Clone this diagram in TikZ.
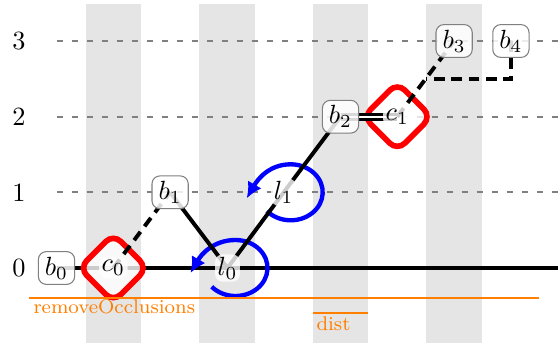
\documentclass[tikz,border=0pt]{standalone}
\usetikzlibrary{calc,arrows.meta}
\pgfdeclarelayer{background}
\pgfdeclarelayer{edgelayer}
\pgfsetlayers{background,edgelayer,main}
\begin{document}
\begin{tikzpicture}[x=0.38pt,y=0.38pt,
  bnode/.style={draw=gray, line width=0.4pt, rounded corners=3pt, fill=white, fill opacity=0.85, text opacity=1, inner xsep=2.5pt, inner ysep=2pt},
  halo/.style={fill=white, fill opacity=0.8, text opacity=1, inner sep=1pt, rounded corners=3pt},
  band/.style={fill=black!10, draw=none},
  rowline/.style={gray, line width=0.8pt, dash pattern=on 2.6pt off 3.1pt},
  edgeline/.style={black, line width=1.5pt},
  dashedge/.style={edgeline, dash pattern=on 4pt off 2.6pt},
  dbledge/.style={black, line width=1pt, double=white, double distance=0.9pt},
  loopline/.style={blue, line width=1.65pt, -{Latex[length=6pt,width=6pt]}},
  diam/.style={red, line width=2.15pt, rounded corners=4pt, fill=white, fill opacity=0.8},
  orangeline/.style={orange, line width=0.75pt},
  lbl/.style={orange, font=\fontsize{7.5}{9}\selectfont, inner sep=0pt, anchor=base west}
]
\useasboundingbox (0,0) rectangle (558,346);

% nodes
\node[bnode] (b0) at (56.5,78) {$b_0$};
\node[halo] (c0) at (113.3,78) {$c_0$};
\node[bnode] (b1) at (170.1,153.7) {$b_1$};
\node[halo] (l0) at (227.5,78) {$l_0$};
\node[halo] (l1) at (283.7,153.7) {$l_1$};
\node[bnode] (b2) at (340.5,229.3) {$b_2$};
\node[halo] (c1) at (397.3,229.3) {$c_1$};
\node[bnode] (b3) at (454.1,305) {$b_3$};
\node[bnode] (b4) at (510.9,305) {$b_4$};

% row labels
\node (n0) at (19,78) {0};
\node (n1) at (19,153.7) {1};
\node (n2) at (19,229.3) {2};
\node (n3) at (19,305) {3};

\begin{pgfonlayer}{background}
  \foreach \cx in {113.3,226.9,340.5,454.1}
    \fill[band] (\cx-27.75,3) rectangle (\cx+27.75,342);
  \foreach \ry in {153.7,229.3,305}
    \draw[rowline] (56.5,\ry) -- (558,\ry);
  \coordinate (r0end) at (558,78);
  \draw[edgeline] (b0.center) -- (r0end);
  % loops
  \draw[loopline] ($(l0)+(8,0)$) ++(222:32 and 28)
     arc[start angle=222, end angle=450, x radius=32, y radius=28]
     to[out=180, in=60] ++(-45,-33);
  \draw[loopline] ($(l1)+(7,0)$) ++(222:32 and 28)
     arc[start angle=222, end angle=450, x radius=32, y radius=28]
     to[out=180, in=60] ++(-44,-34);
  % diamonds
  \draw[diam] (c0.center) ++(-34,0) -- ++(34,34) -- ++(34,-34) -- ++(-34,-34) -- cycle;
  \draw[diam] (c1.center) ++(-34,0) -- ++(34,34) -- ++(34,-34) -- ++(-34,-34) -- cycle;
  % orange annotations
  \coordinate (oa) at (29,48);
  \coordinate (ob) at (539,48);
  \draw[orangeline] (oa) -- (ob);
  \coordinate (da) at (312.75,32.7);
  \coordinate (db) at (368.25,32.7);
  \draw[orangeline] (da) -- (db);
\end{pgfonlayer}

\node[lbl] (rmo) at (33,33) {removeOcclusions};
\node[lbl] (dist) at (316,16) {dist};

\begin{pgfonlayer}{edgelayer}
  \draw[dashedge] (c0.center) -- (b1.center);
  \draw[edgeline] (b1.center) -- (l0.center) -- (l1.center) -- (b2.center);
  \draw[dbledge] (b2.center) -- (c1.center);
  \draw[dashedge] (c1.center) -- (b3.center);
  \draw[dashedge] (b4.center) |- ($(c1)!0.5!(b3)$);
\end{pgfonlayer}
\end{tikzpicture}
\end{document}
